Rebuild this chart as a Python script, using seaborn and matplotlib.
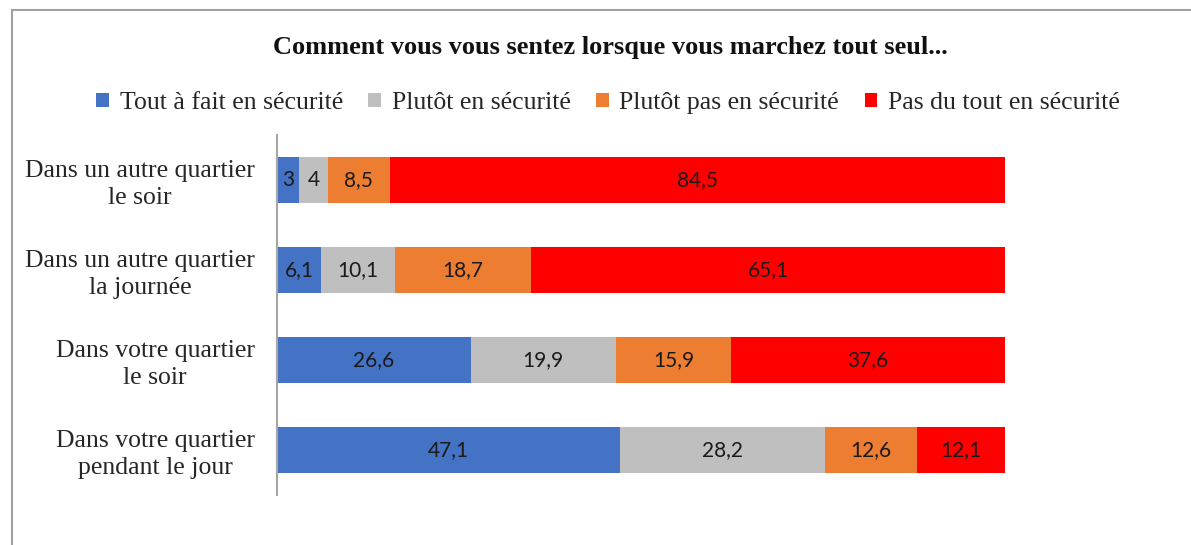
import numpy as np
import pandas as pd
import matplotlib
matplotlib.use("Agg")
import matplotlib.pyplot as plt
import seaborn as sns
from matplotlib.patches import Patch, Rectangle

categories = [
    "Dans un autre quartier\nle soir",
    "Dans un autre quartier\nla journée",
    "Dans votre quartier\nle soir",
    "Dans votre quartier\npendant le jour",
]
series_names = [
    "Tout à fait en sécurité",
    "Plutôt en sécurité",
    "Plutôt pas en sécurité",
    "Pas du tout en sécurité",
]
tout_a_fait = [3, 6.1, 26.6, 47.1]
plutot = [4, 10.1, 19.9, 28.2]
plutot_pas = [8.5, 18.7, 15.9, 12.6]
pas_du_tout = [84.5, 65.1, 37.6, 12.1]
colors = ["#4472C4", "#BFBFBF", "#ED7D31", "#FF0000"]
title = "Comment vous vous sentez lorsque vous marchez tout seul..."

values = np.array([tout_a_fait, plutot, plutot_pas, pas_du_tout])
cum = values.cumsum(axis=0)

sns.set_theme(style="white")
plt.rcParams["font.family"] = ["Liberation Serif", "DejaVu Serif"]

fig = plt.figure(figsize=(11.91, 5.45), dpi=100)
ax = fig.add_axes([0.2326, 50 / 545, 0.6112, 360 / 545])

# stacked bars: draw cumulative totals from the outermost segment inwards
for i in range(3, -1, -1):
    df = pd.DataFrame({"cat": categories, "val": cum[i]})
    sns.barplot(data=df, x="val", y="cat", orient="h", color=colors[i],
                width=0.51, saturation=1, ax=ax, linewidth=0)

for i in range(4):
    for j, cat in enumerate(categories):
        v = values[i][j]
        start = cum[i][j] - v
        lab = f"{v:g}".replace(".", ",")
        ax.text(start + v / 2, j, lab, ha="center", va="center",
                fontsize=15, color="#1a1a1a", family=["Lato", "DejaVu Sans"])

ax.set_xlim(0, 100)
ax.set_ylim(3.5, -0.5)
ax.set_xlabel("")
ax.set_ylabel("")
ax.set_xticks([])
ax.tick_params(axis="y", length=0, pad=16, labelsize=18.5, labelcolor="#262626")
for lbl in ax.get_yticklabels():
    lbl.set_multialignment("center")
    lbl.set_linespacing(1.25)

for s in ["top", "right", "bottom"]:
    ax.spines[s].set_visible(False)
ax.spines["left"].set_color("#a6a6a6")
ax.spines["left"].set_linewidth(1.5)

fig.text(0.5125, 1 - 47 / 545, title, ha="center", va="center",
         fontsize=19, fontweight="bold", color="#111111")

handles = [Patch(facecolor=c, edgecolor="none") for c in colors]
fig.legend(handles, series_names, loc="center", ncol=4, frameon=False,
           bbox_to_anchor=(608 / 1191, 1 - 103 / 545), fontsize=18.5,
           handlelength=0.5, handleheight=0.5, handletextpad=0.4,
           columnspacing=1.0, labelcolor="#262626")

fig.patches.append(Rectangle((12 / 1191, -0.1), 1.2, 1 - 10 / 545 + 0.1,
                             transform=fig.transFigure, fill=False,
                             edgecolor="#a0a0a0", linewidth=1.5))

fig.savefig("out.png", dpi=100)
